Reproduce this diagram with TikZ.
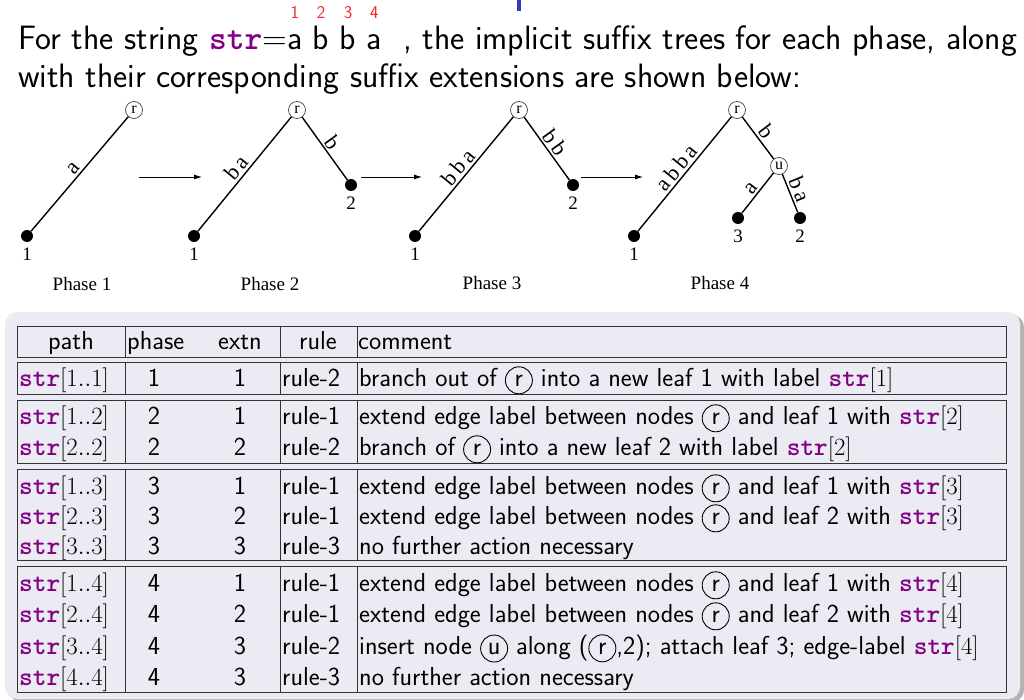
\documentclass[tikz,border=0pt]{standalone}
\usepackage{fontspec}
\usepackage{xcolor}
\usetikzlibrary{positioning,arrows.meta}
\newfontfamily\treefont{Liberation Serif}
\definecolor{strpurple}{HTML}{850085}
\definecolor{panelbg}{HTML}{EBEBF4}
\definecolor{idxred}{HTML}{F5281E}
\definecolor{titleblue}{HTML}{3838B8}
\newcommand\strvar{\textcolor{strpurple}{\texttt{\bfseries str}}}
\newcommand\hdfont{\sffamily\fontsize{33.8}{38}\selectfont}
\newcommand\tabfont{\sffamily\fontsize{26}{30}\selectfont}
\newcommand\tfont{\treefont\fontsize{19}{19}\selectfont}
% letter of the string with its red index above
\newcommand\idx[2]{\ooalign{\hfil#1\hfil\cr\hidewidth\raisebox{31pt}{\fontsize{18}{18}\selectfont\color{idxred}#2}\hidewidth\cr}}
% circled tree node inside the table text
\newcommand\tnode[1]{\tikz[baseline=(tn.base)]\node[draw, circle, line width=0.9pt, inner sep=0pt, minimum size=27pt] (tn) {#1};}

\begin{document}
\begin{tikzpicture}[x=1pt, y=-1pt,
  rnode/.style={draw=black!75, circle, line width=0.7pt, inner sep=0pt,
                minimum size=17pt, font=\treefont\fontsize{16}{16}\selectfont},
  leaf/.style={circle, fill=black, inner sep=0pt, minimum size=12pt},
  edge/.style={line width=1.4pt},
  elbl/.style={midway, sloped, above, inner sep=2pt, font=\treefont\fontsize{22}{22}\selectfont},
  leaflbl/.style={inner sep=1pt, font=\tfont},
  phaselbl/.style={font=\tfont},
  phasearr/.style={-{Latex[length=8pt, width=5pt]}, line width=0.8pt},
  grp/.style={draw=black!80, line width=0.9pt},
  cell/.style={anchor=base west, inner sep=0pt, font=\tabfont},
  ccell/.style={anchor=base, inner sep=0pt, font=\tabfont}]
\useasboundingbox (0,0) rectangle (1024,700);
\fill[titleblue] (517,0) rectangle (521,11);

% heading
\node[anchor=base west, inner sep=0pt, font=\hdfont] (head1) at (18,50)
  {For the string \strvar=\idx{a}{1} \idx{b}{2} \idx{b}{3} \idx{a}{4}\ \ , the implicit suffix trees for each phase, along};
\node[anchor=base west, inner sep=0pt, font=\hdfont] (head2) at (18,88)
  {with their corresponding suffix extensions are shown below:};

% phase 1
\node[rnode] (p1r) at (134,110) {r};
\node[leaf] (p1l1) at (27,236) {};
\node[leaflbl, below=5pt of p1l1] {1};
\draw[edge] (p1l1) -- node[elbl] {a} (p1r);
\node[phaselbl] (p1) at (82,284) {Phase 1};

% phase 2
\node[rnode] (p2r) at (297,110) {r};
\node[leaf] (p2l1) at (194,236) {};
\node[leaf] (p2l2) at (351,185) {};
\node[leaflbl, below=5pt of p2l1] {1};
\node[leaflbl, below=5pt of p2l2] {2};
\draw[edge] (p2l1) -- node[elbl] {b\,a} (p2r);
\draw[edge] (p2r) -- node[elbl] {b} (p2l2);
\node[phaselbl] (p2) at (270,284) {Phase 2};

% phase 3
\node[rnode] (p3r) at (519,110) {r};
\node[leaf] (p3l1) at (415,236) {};
\node[leaf] (p3l2) at (573,185) {};
\node[leaflbl, below=5pt of p3l1] {1};
\node[leaflbl, below=5pt of p3l2] {2};
\draw[edge] (p3l1) -- node[elbl] {b\,b\,a} (p3r);
\draw[edge] (p3r) -- node[elbl] {b\,b} (p3l2);
\node[phaselbl] (p3) at (492,283) {Phase 3};

% phase 4
\node[rnode] (p4r) at (737,110) {r};
\node[rnode] (p4u) at (779,166) {u};
\node[leaf] (p4l1) at (634,236) {};
\node[leaf] (p4l3) at (738,218) {};
\node[leaf] (p4l2) at (800,218) {};
\node[leaflbl, below=5pt of p4l1] {1};
\node[leaflbl, below=5pt of p4l3] {3};
\node[leaflbl, below=5pt of p4l2] {2};
\draw[edge] (p4l1) -- node[elbl] {a\,b\,b\,a} (p4r);
\draw[edge] (p4r) -- node[elbl] {b} (p4u);
\draw[edge] (p4l3) -- node[elbl] {a} (p4u);
\draw[edge] (p4u) -- node[elbl] {b\,a} (p4l2);
\node[phaselbl] (p4) at (720,283) {Phase 4};

% arrows between phases
\coordinate (a1s) at (139,177); \coordinate (a1e) at (202,177);
\coordinate (a2s) at (361,177); \coordinate (a2e) at (422,177);
\coordinate (a3s) at (581,177); \coordinate (a3e) at (643,177);
\draw[phasearr] (a1s) -- (a1e);
\draw[phasearr] (a2s) -- (a2e);
\draw[phasearr] (a3s) -- (a3e);

% table panel
\fill[black!30, rounded corners=12pt] (9,315) rectangle (1024,702);
\fill[panelbg, rounded corners=12pt] (5,312) rectangle (1020,699);
\foreach \top/\bot in {326/357, 362/394, 400/463, 469/560, 566/692} {
  \draw[grp] (17,\top) rectangle (1006,\bot);
  \draw[grp] (125,\top) -- (125,\bot);
  \draw[grp] (280,\top) -- (280,\bot);
  \draw[grp] (357,\top) -- (357,\bot);
}
\node[ccell] (hpath) at (71,349) {path};
\node[cell] (hphase) at (127,349) {phase};
\node[ccell] (hextn) at (240,349) {extn};
\node[ccell] (hrule) at (318,349) {rule};
\node[cell] (hcomm) at (358,349) {comment};
\foreach \ry/\pa/\ph/\ex/\ru/\cm in {
  378/{1..1}/1/1/2/{branch out of \tnode{r} into a new leaf 1 with label \strvar$[1]$},
  416/{1..2}/2/1/1/{extend edge label between nodes \tnode{r} and leaf 1 with \strvar$[2]$},
  447/{2..2}/2/2/2/{branch of \tnode{r} into a new leaf 2 with label \strvar$[2]$},
  486/{1..3}/3/1/1/{extend edge label between nodes \tnode{r} and leaf 1 with \strvar$[3]$},
  516/{2..3}/3/2/1/{extend edge label between nodes \tnode{r} and leaf 2 with \strvar$[3]$},
  546/{3..3}/3/3/3/{no further action necessary},
  583/{1..4}/4/1/1/{extend edge label between nodes \tnode{r} and leaf 1 with \strvar$[4]$},
  614/{2..4}/4/2/1/{extend edge label between nodes \tnode{r} and leaf 2 with \strvar$[4]$},
  646/{3..4}/4/3/2/{insert node \tnode{u} along (\tnode{r},2); attach leaf 3; edge-label \strvar$[4]$},
  677/{4..4}/4/3/3/{no further action necessary}} {
  \node[cell] (pa\ry) at (19,{\ry+8}) {\strvar$[\pa]$};
  \node[ccell] (ph\ry) at (154,{\ry+8}) {\ph};
  \node[ccell] (ex\ry) at (240,{\ry+8}) {\ex};
  \node[cell] (ru\ry) at (282,{\ry+8}) {rule-\ru};
  \node[cell] (cm\ry) at (359,{\ry+8}) {\cm};
}
\end{tikzpicture}
\end{document}
